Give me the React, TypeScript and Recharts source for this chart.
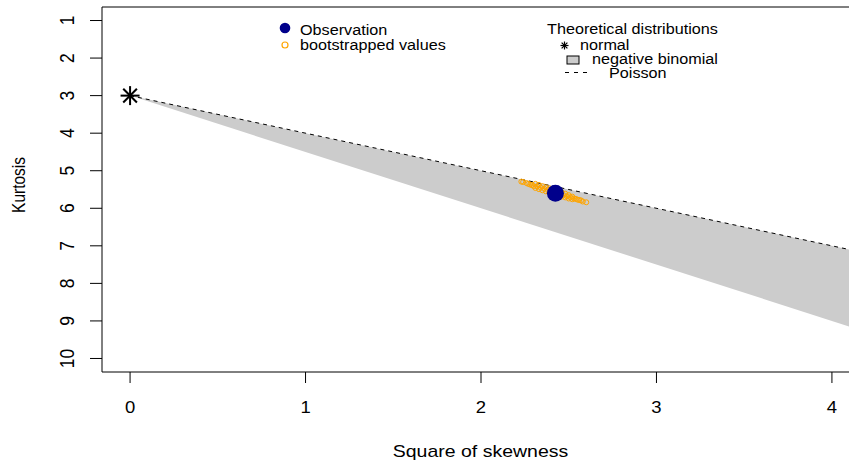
import { ComposedChart, Area, Line, Scatter, XAxis, YAxis, ReferenceLine, Legend } from 'recharts';

// Theoretical lines (square of skewness -> kurtosis)
const theoSkew2 = [0, 4.16];
const poissonKurt = [3, 7.16];
const nbinomLowKurt = [3, 9.24];

// normal distribution point
const normalSkew2 = [0];
const normalKurt = [3];

// Observation
const obsSkew2 = [2.424];
const obsKurt = [5.6];

// bootstrapped values
const bootSkew2 = [
  2.23, 2.24, 2.26, 2.27, 2.28, 2.29, 2.3, 2.31, 2.31, 2.32, 2.33, 2.33, 2.34, 2.35, 2.35, 2.36,
  2.37, 2.37, 2.38, 2.39, 2.39, 2.4, 2.41, 2.41, 2.42, 2.43, 2.44, 2.44, 2.45, 2.46, 2.46, 2.47,
  2.48, 2.48, 2.49, 2.5, 2.5, 2.51, 2.52, 2.52, 2.53, 2.54, 2.55, 2.56, 2.57, 2.58, 2.6,
];
const bootKurt = [
  5.29, 5.3, 5.33, 5.35, 5.37, 5.38, 5.41, 5.35, 5.46, 5.42, 5.38, 5.49, 5.45, 5.41, 5.52, 5.48,
  5.44, 5.55, 5.51, 5.47, 5.58, 5.54, 5.5, 5.61, 5.57, 5.59, 5.55, 5.66, 5.62, 5.58, 5.69, 5.65,
  5.61, 5.71, 5.68, 5.65, 5.74, 5.71, 5.69, 5.76, 5.74, 5.75, 5.77, 5.78, 5.79, 5.82, 5.84,
];

const xTicks = [0, 1, 2, 3, 4];
const yTicks = [1, 2, 3, 4, 5, 6, 7, 8, 9, 10];

const FONT = '"Liberation Sans", Arial, Helvetica, sans-serif';
const SQ = 0.85; // text is a bit wider than tall in the reference

const theoData = theoSkew2.map((x, i) => ({
  x,
  poisson: poissonKurt[i],
  nbinom: [poissonKurt[i], nbinomLowKurt[i]],
}));
const bootData = bootSkew2.map((x, i) => ({ x, y: bootKurt[i] }));
const obsData = obsSkew2.map((x, i) => ({ x, y: obsKurt[i] }));
const normalData = normalSkew2.map((x, i) => ({ x, y: normalKurt[i] }));

const XTick = ({ x, payload }: any) => (
  <text transform={`translate(${x},412.7) scale(1,0.93)`} textAnchor="middle" fontSize={18.5} fontFamily={FONT} fill="#000">
    {payload.value}
  </text>
);

const YTick = ({ y, payload }: any) => (
  <text transform={`translate(74,${y}) rotate(-90) scale(0.9,1)`} textAnchor="middle" fontSize={19.4} fontFamily={FONT} fill="#000">
    {payload.value}
  </text>
);

const XTitle = ({ viewBox }: any) => (
  <text
    transform={`translate(${viewBox.x + viewBox.width / 2 - 0.5},456.5) scale(1,${SQ})`}
    textAnchor="middle"
    fontSize={19.5}
    fontFamily={FONT}
    fill="#000"
  >
    Square of skewness
  </text>
);

const YTitle = () => (
  <text transform={`translate(25,185) rotate(-90) scale(${SQ},1)`} textAnchor="middle" fontSize={18.2} fontFamily={FONT} fill="#000">
    Kurtosis
  </text>
);

const star = (cx: number, cy: number, r: number, w: number) => {
  const d = r * 0.72;
  return (
    <g stroke="#000" strokeWidth={w}>
      <line x1={cx - r} y1={cy} x2={cx + r} y2={cy} />
      <line x1={cx} y1={cy - r} x2={cx} y2={cy + r} />
      <line x1={cx - d} y1={cy - d} x2={cx + d} y2={cy + d} />
      <line x1={cx - d} y1={cy + d} x2={cx + d} y2={cy - d} />
    </g>
  );
};

const legendText = (x: number, y: number, s: string) => (
  <text transform={`translate(${x},${y}) scale(1,${SQ})`} fontSize={16.2} fontFamily={FONT} fill="#000">
    {s}
  </text>
);

const LegendBox = () => (
  <svg width={849} height={90} style={{ display: 'block' }}>
    <circle cx={285} cy={28} r={5.3} fill="#00008B" />
    {legendText(300, 34.5, 'Observation')}
    <circle cx={285} cy={45} r={3} fill="none" stroke="#FFA500" strokeWidth={1.2} />
    {legendText(300, 49.5, 'bootstrapped values')}

    {legendText(547, 34, 'Theoretical distributions')}
    {star(564.5, 45.5, 4, 1.2)}
    {legendText(580, 49.5, 'normal')}
    <rect x={567} y={56} width={12} height={8} fill="#CCCCCC" stroke="#000" strokeWidth={1} />
    {legendText(592, 63.5, 'negative binomial')}
    <line x1={565} y1={72.5} x2={589} y2={72.5} stroke="#000" strokeWidth={1} strokeDasharray="4 5" />
    {legendText(609, 77.5, 'Poisson')}
  </svg>
);

export default function App() {
  return (
    <div style={{ position: 'absolute', left: 0, top: 0, width: 849, height: 463, overflow: 'hidden', background: '#fff' }}>
      <ComposedChart width={870} height={463} data={theoData} margin={{ top: 7, right: 10, bottom: 0, left: 0 }}>
        <XAxis
          dataKey="x"
          type="number"
          domain={[-0.16, 4.16]}
          ticks={xTicks}
          allowDataOverflow
          height={91}
          tickSize={11}
          tickLine={{ stroke: '#000' }}
          axisLine={{ stroke: '#000' }}
          tick={<XTick />}
          label={{ content: <XTitle /> } as any}
        />
        <YAxis
          type="number"
          domain={[0.64, 10.36]}
          reversed
          ticks={yTicks}
          allowDataOverflow
          width={102}
          tickSize={12}
          tickLine={{ stroke: '#000' }}
          axisLine={{ stroke: '#000' }}
          tick={<YTick />}
          label={{ content: <YTitle /> } as any}
        />
        <ReferenceLine y={0.64} stroke="#000" ifOverflow="extendDomain" />
        <Area
          dataKey="nbinom"
          type="linear"
          fill="#CCCCCC"
          fillOpacity={1}
          stroke="none"
          isAnimationActive={false}
          activeDot={false}
        />
        <Line
          dataKey="poisson"
          type="linear"
          stroke="#000"
          strokeWidth={1}
          strokeDasharray="4 4"
          dot={false}
          activeDot={false}
          isAnimationActive={false}
        />
        <Scatter
          data={bootData}
          dataKey="y"
          isAnimationActive={false}
          shape={(p: any) => <circle cx={p.cx} cy={p.cy} r={2.5} fill="none" stroke="#FFA500" strokeWidth={1} />}
        />
        <Scatter
          data={obsData}
          dataKey="y"
          isAnimationActive={false}
          shape={(p: any) => <circle cx={p.cx} cy={p.cy} r={8.5} fill="#00008B" />}
        />
        <Scatter
          data={normalData}
          dataKey="y"
          isAnimationActive={false}
          shape={(p: any) => star(p.cx, p.cy, 9.5, 2)}
        />
        <Legend
          layout="horizontal"
          verticalAlign="middle"
          align="center"
          content={<LegendBox />}
          wrapperStyle={{ left: 0, top: 0, width: 849, height: 90 }}
        />
      </ComposedChart>
    </div>
  );
}
